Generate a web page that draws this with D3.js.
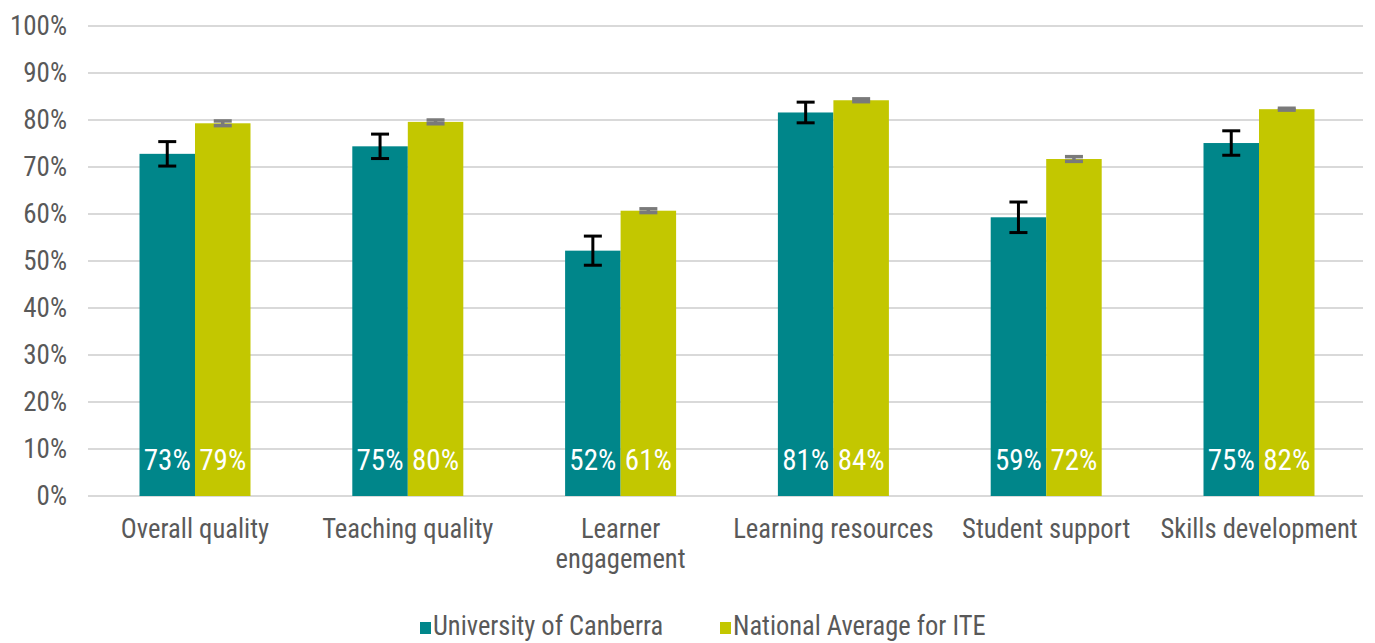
<!DOCTYPE html>
<html>
<head>
<meta charset="utf-8">
<script src="https://cdn.jsdelivr.net/npm/d3@7"></script>
<style>
  body { margin: 0; background: #fff; }
  svg text { font-family: "Roboto Condensed", "Liberation Sans Narrow", "Liberation Sans", sans-serif; }
</style>
</head>
<body>
<svg id="chart" width="1375" height="643"></svg>
<script>
// données
const categories = ["Overall quality", "Teaching quality", "Learner engagement", "Learning resources", "Student support", "Skills development"];
const seriesNames = ["University of Canberra", "National Average for ITE"];
const uniValues = [72.8, 74.4, 52.2, 81.6, 59.3, 75.1];
const uniLabels = ["73%", "75%", "52%", "81%", "59%", "75%"];
const uniErrors = [2.6, 2.6, 3.1, 2.2, 3.25, 2.6];
const natValues = [79.3, 79.6, 60.7, 84.2, 71.7, 82.3];
const natLabels = ["79%", "80%", "61%", "84%", "72%", "82%"];
const natErrors = [0.5, 0.4, 0.4, 0.3, 0.5, 0.2];
const yTicks = [0, 10, 20, 30, 40, 50, 60, 70, 80, 90, 100];

const colors = ["#00868a", "#c3c700"];
const errColors = ["#000000", "#7a7a7a"];
const textColor = '#595959';

let svg = d3.select('#chart');

let gridLeft = 88, gridRight = 1363, mTop = 26, mBottom = 496;

let x = d3.scaleBand().domain(categories).range([88.6, 1365.4]).paddingInner(0).paddingOuter(0);
let y = d3.scaleLinear().domain([0, 100]).range([mBottom, mTop]);

let barW = 55.5;

// grille
svg.append('g').selectAll('line')
    .data(yTicks)
    .enter().append('line')
    .attr('x1', gridLeft).attr('x2', gridRight)
    .attr('y1', d => y(d)).attr('y2', d => y(d))
    .attr('stroke', '#d9d9d9')
    .attr('stroke-width', 2);

// axe Y
let yAxis = d3.axisLeft(y).tickValues(yTicks).tickFormat(d => d + '%').tickSize(0).tickPadding(21);
let gy = svg.append('g').attr('transform', 'translate(' + gridLeft + ',0)').call(yAxis);
gy.select('.domain').remove();
gy.selectAll('text').attr('font-size', 27).attr('fill', textColor)
    .style('font-family', '"Roboto Condensed", "Liberation Sans Narrow", sans-serif');

let series = [
    { vals: uniValues, labels: uniLabels, errs: uniErrors },
    { vals: natValues, labels: natLabels, errs: natErrors }
];

series.forEach(function (s, k) {
    let g = svg.append('g');
    categories.forEach(function (c, i) {
        let cx = x(c) + x.bandwidth() / 2;
        let bx = k === 0 ? cx - barW : cx;
        g.append('rect')
            .attr('x', bx).attr('y', y(s.vals[i]))
            .attr('width', barW).attr('height', y(0) - y(s.vals[i]))
            .attr('fill', colors[k]);
        g.append('text')
            .attr('x', bx + barW / 2).attr('y', 470)
            .attr('text-anchor', 'middle')
            .attr('font-size', 29)
            .attr('fill', '#fff')
            .text(s.labels[i]);
        // barres d'erreur
        let ex = bx + barW / 2;
        let hi = y(s.vals[i] + s.errs[i]), lo = y(s.vals[i] - s.errs[i]);
        let capW = 9;
        let sw = k === 0 ? 3 : 3.5;
        g.append('line').attr('x1', ex).attr('x2', ex).attr('y1', hi).attr('y2', lo)
            .attr('stroke', errColors[k]).attr('stroke-width', sw);
        [hi, lo].forEach(function (yy) {
            g.append('line').attr('x1', ex - capW).attr('x2', ex + capW).attr('y1', yy).attr('y2', yy)
                .attr('stroke', errColors[k]).attr('stroke-width', sw);
        });
    });
});

// libellés des catégories
let catLines = {
    "Learner engagement": ["Learner", "engagement"]
};
categories.forEach(function (c) {
    let lines = catLines[c] || [c];
    let t = svg.append('text')
        .attr('transform', 'translate(' + (x(c) + x.bandwidth() / 2) + ',538) scale(0.95,1)')
        .attr('text-anchor', 'middle')
        .attr('font-size', 28)
        .attr('fill', textColor);
    lines.forEach(function (l, j) {
        t.append('tspan').attr('x', 0).attr('dy', j === 0 ? 0 : 30).text(l);
    });
});

// légende
let legendX = [420, 720];
seriesNames.forEach(function (n, k) {
    svg.append('rect')
        .attr('x', legendX[k]).attr('y', 622)
        .attr('width', 11).attr('height', 12)
        .attr('fill', colors[k]);
    svg.append('text')
        .attr('transform', 'translate(' + (legendX[k] + 13) + ',635) scale(0.98,1)')
        .attr('font-size', 27)
        .attr('fill', textColor)
        .text(n);
});
</script>
</body>
</html>
